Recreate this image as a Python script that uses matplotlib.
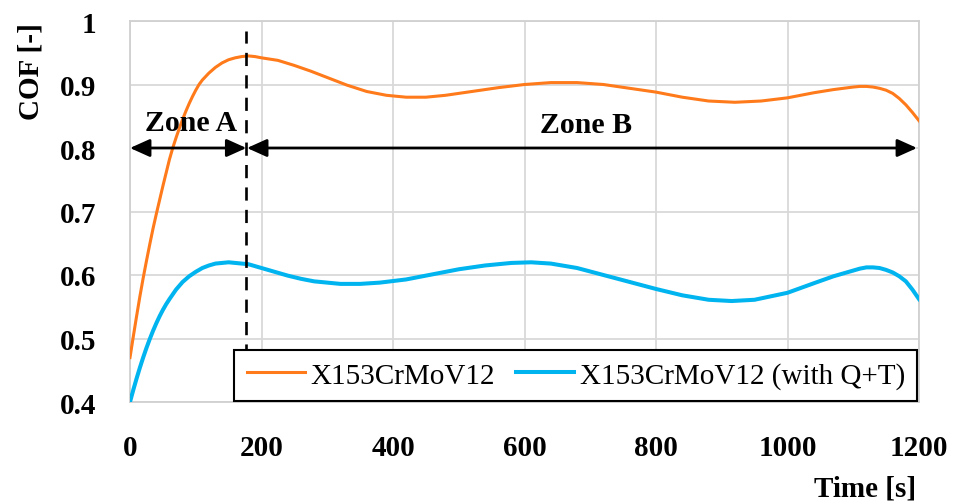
import matplotlib
matplotlib.use("Agg")
import matplotlib.pyplot as plt

# ---- data ----
t_orange = [0, 5, 10, 15, 20, 25, 30, 35, 40, 45, 50, 55, 60, 65, 70, 75, 80, 85, 90, 95,
            100, 105, 110, 120, 130, 140, 150, 160, 170, 180, 190, 200, 225, 250, 275, 300,
            330, 360, 390, 420, 450, 480, 520, 560, 600, 640, 680, 720, 760, 800, 840, 880,
            920, 960, 1000, 1040, 1070, 1100, 1110, 1120, 1130, 1140, 1150, 1160, 1170,
            1180, 1190, 1200]
cof_orange = [0.470, 0.503, 0.535, 0.566, 0.595, 0.622, 0.648, 0.673, 0.696, 0.718, 0.740,
              0.761, 0.782, 0.800, 0.816, 0.831, 0.845, 0.858, 0.870, 0.881, 0.891, 0.900,
              0.907, 0.918, 0.927, 0.934, 0.939, 0.942, 0.944, 0.945, 0.944, 0.942, 0.938,
              0.930, 0.921, 0.911, 0.899, 0.889, 0.883, 0.880, 0.880, 0.883, 0.889, 0.895,
              0.900, 0.903, 0.903, 0.900, 0.894, 0.888, 0.880, 0.874, 0.872, 0.874, 0.879,
              0.887, 0.892, 0.896, 0.897, 0.897, 0.896, 0.894, 0.891, 0.886, 0.878, 0.868,
              0.856, 0.843]

t_blue = [0, 5, 10, 15, 20, 25, 30, 35, 40, 45, 50, 55, 60, 70, 80, 90, 100, 110, 120, 130,
          140, 150, 160, 170, 180, 190, 200, 220, 240, 260, 280, 300, 320, 350, 380, 420,
          460, 500, 540, 580, 610, 640, 680, 720, 760, 800, 840, 880, 915, 950, 1000, 1040,
          1070, 1100, 1110, 1120, 1130, 1140, 1150, 1160, 1170, 1180, 1190, 1200]
cof_blue = [0.400, 0.419, 0.437, 0.454, 0.470, 0.485, 0.499, 0.512, 0.524, 0.535, 0.545,
            0.554, 0.562, 0.577, 0.589, 0.598, 0.605, 0.611, 0.615, 0.618, 0.619, 0.620,
            0.619, 0.618, 0.617, 0.614, 0.611, 0.605, 0.599, 0.594, 0.590, 0.588, 0.586,
            0.586, 0.588, 0.593, 0.601, 0.609, 0.615, 0.619, 0.620, 0.618, 0.611, 0.600,
            0.589, 0.578, 0.568, 0.561, 0.559, 0.561, 0.572, 0.587, 0.598, 0.607, 0.610,
            0.612, 0.612, 0.611, 0.608, 0.604, 0.598, 0.590, 0.577, 0.562]

series_labels = ["X153CrMoV12", "X153CrMoV12 (with Q+T)"]
x_ticks = [0, 200, 400, 600, 800, 1000, 1200]
x_ticklabels = ["0", "200", "400", "600", "800", "1000", "1200"]
y_ticks = [0.4, 0.5, 0.6, 0.7, 0.8, 0.9, 1.0]
y_ticklabels = ["0.4", "0.5", "0.6", "0.7", "0.8", "0.9", "1"]
zone_boundary = 177
zone_arrow_y = 0.8
zone_labels = ["Zone A", "Zone B"]

# ---- figure ----
plt.rcParams['font.family'] = ['Liberation Serif', 'DejaVu Serif']
fig = plt.figure(figsize=(9.58, 5.02), dpi=100)
ax = fig.add_axes([130/958, 99/502, 789/958, 381/502])

ax.set_xlim(0, 1200)
ax.set_ylim(0.4, 1.0)
ax.set_xticks(x_ticks)
ax.set_xticklabels(x_ticklabels, fontsize=21, fontweight='bold')
ax.set_yticks(y_ticks)
ax.set_yticklabels(y_ticklabels, fontsize=21, fontweight='bold')
ax.tick_params(axis='both', length=0)
ax.tick_params(axis='x', pad=23)
ax.tick_params(axis='y', pad=24)
ax.grid(True, color='#d9d9d9', linewidth=1.3)
ax.set_axisbelow(True)
for s in ax.spines.values():
    s.set_color('#d0d0d0')
    s.set_linewidth(1.3)

orange = '#FF7A1A'
blue = '#00B4F0'
l1, = ax.plot(t_orange, cof_orange, color=orange, lw=2.2, label=series_labels[0], zorder=3)
l2, = ax.plot(t_blue, cof_blue, color=blue, lw=2.9, label=series_labels[1], zorder=3)

# dashed zone boundary
ax.plot([zone_boundary, zone_boundary], [0.4, 0.984], color='black', lw=1.9,
        dashes=(5, 3.5), zorder=4)

# zone arrows
arrow_style = '<|-|>,head_length=1.0,head_width=0.45'
ax.annotate('', xy=(0, zone_arrow_y), xytext=(zone_boundary, zone_arrow_y),
            arrowprops=dict(arrowstyle=arrow_style, color='black', lw=2,
                            mutation_scale=12, shrinkA=0, shrinkB=0), zorder=5)
ax.annotate('', xy=(zone_boundary + 1, zone_arrow_y), xytext=(1197, zone_arrow_y),
            arrowprops=dict(arrowstyle=arrow_style, color='black', lw=2,
                            mutation_scale=12, shrinkA=0, shrinkB=0), zorder=5)
ax.text(93, 0.828, zone_labels[0], ha='center', va='baseline', fontsize=21.5,
        fontweight='bold', zorder=5)
ax.text(693, 0.825, zone_labels[1], ha='center', va='baseline', fontsize=21.5,
        fontweight='bold', zorder=5)

# labels
ax.set_ylabel('COF [-]', fontsize=21, fontweight='bold')
ax.yaxis.set_label_coords(-0.108, 0.87)
ax.set_xlabel('Time [s]', fontsize=21, fontweight='bold', ha='right')
ax.xaxis.set_label_coords(0.996, -0.19)

leg = ax.legend(handles=[l1, l2], loc='lower right', bbox_to_anchor=(0.998, 0.002),
                ncol=2, fontsize=21, frameon=True, fancybox=False, framealpha=1,
                edgecolor='black', borderpad=0.42, handlelength=2.0,
                handletextpad=0.2, columnspacing=0.7, borderaxespad=0)
leg.get_frame().set_linewidth(1.5)
leg.set_zorder(10)

fig.savefig('out.png', dpi=100)
